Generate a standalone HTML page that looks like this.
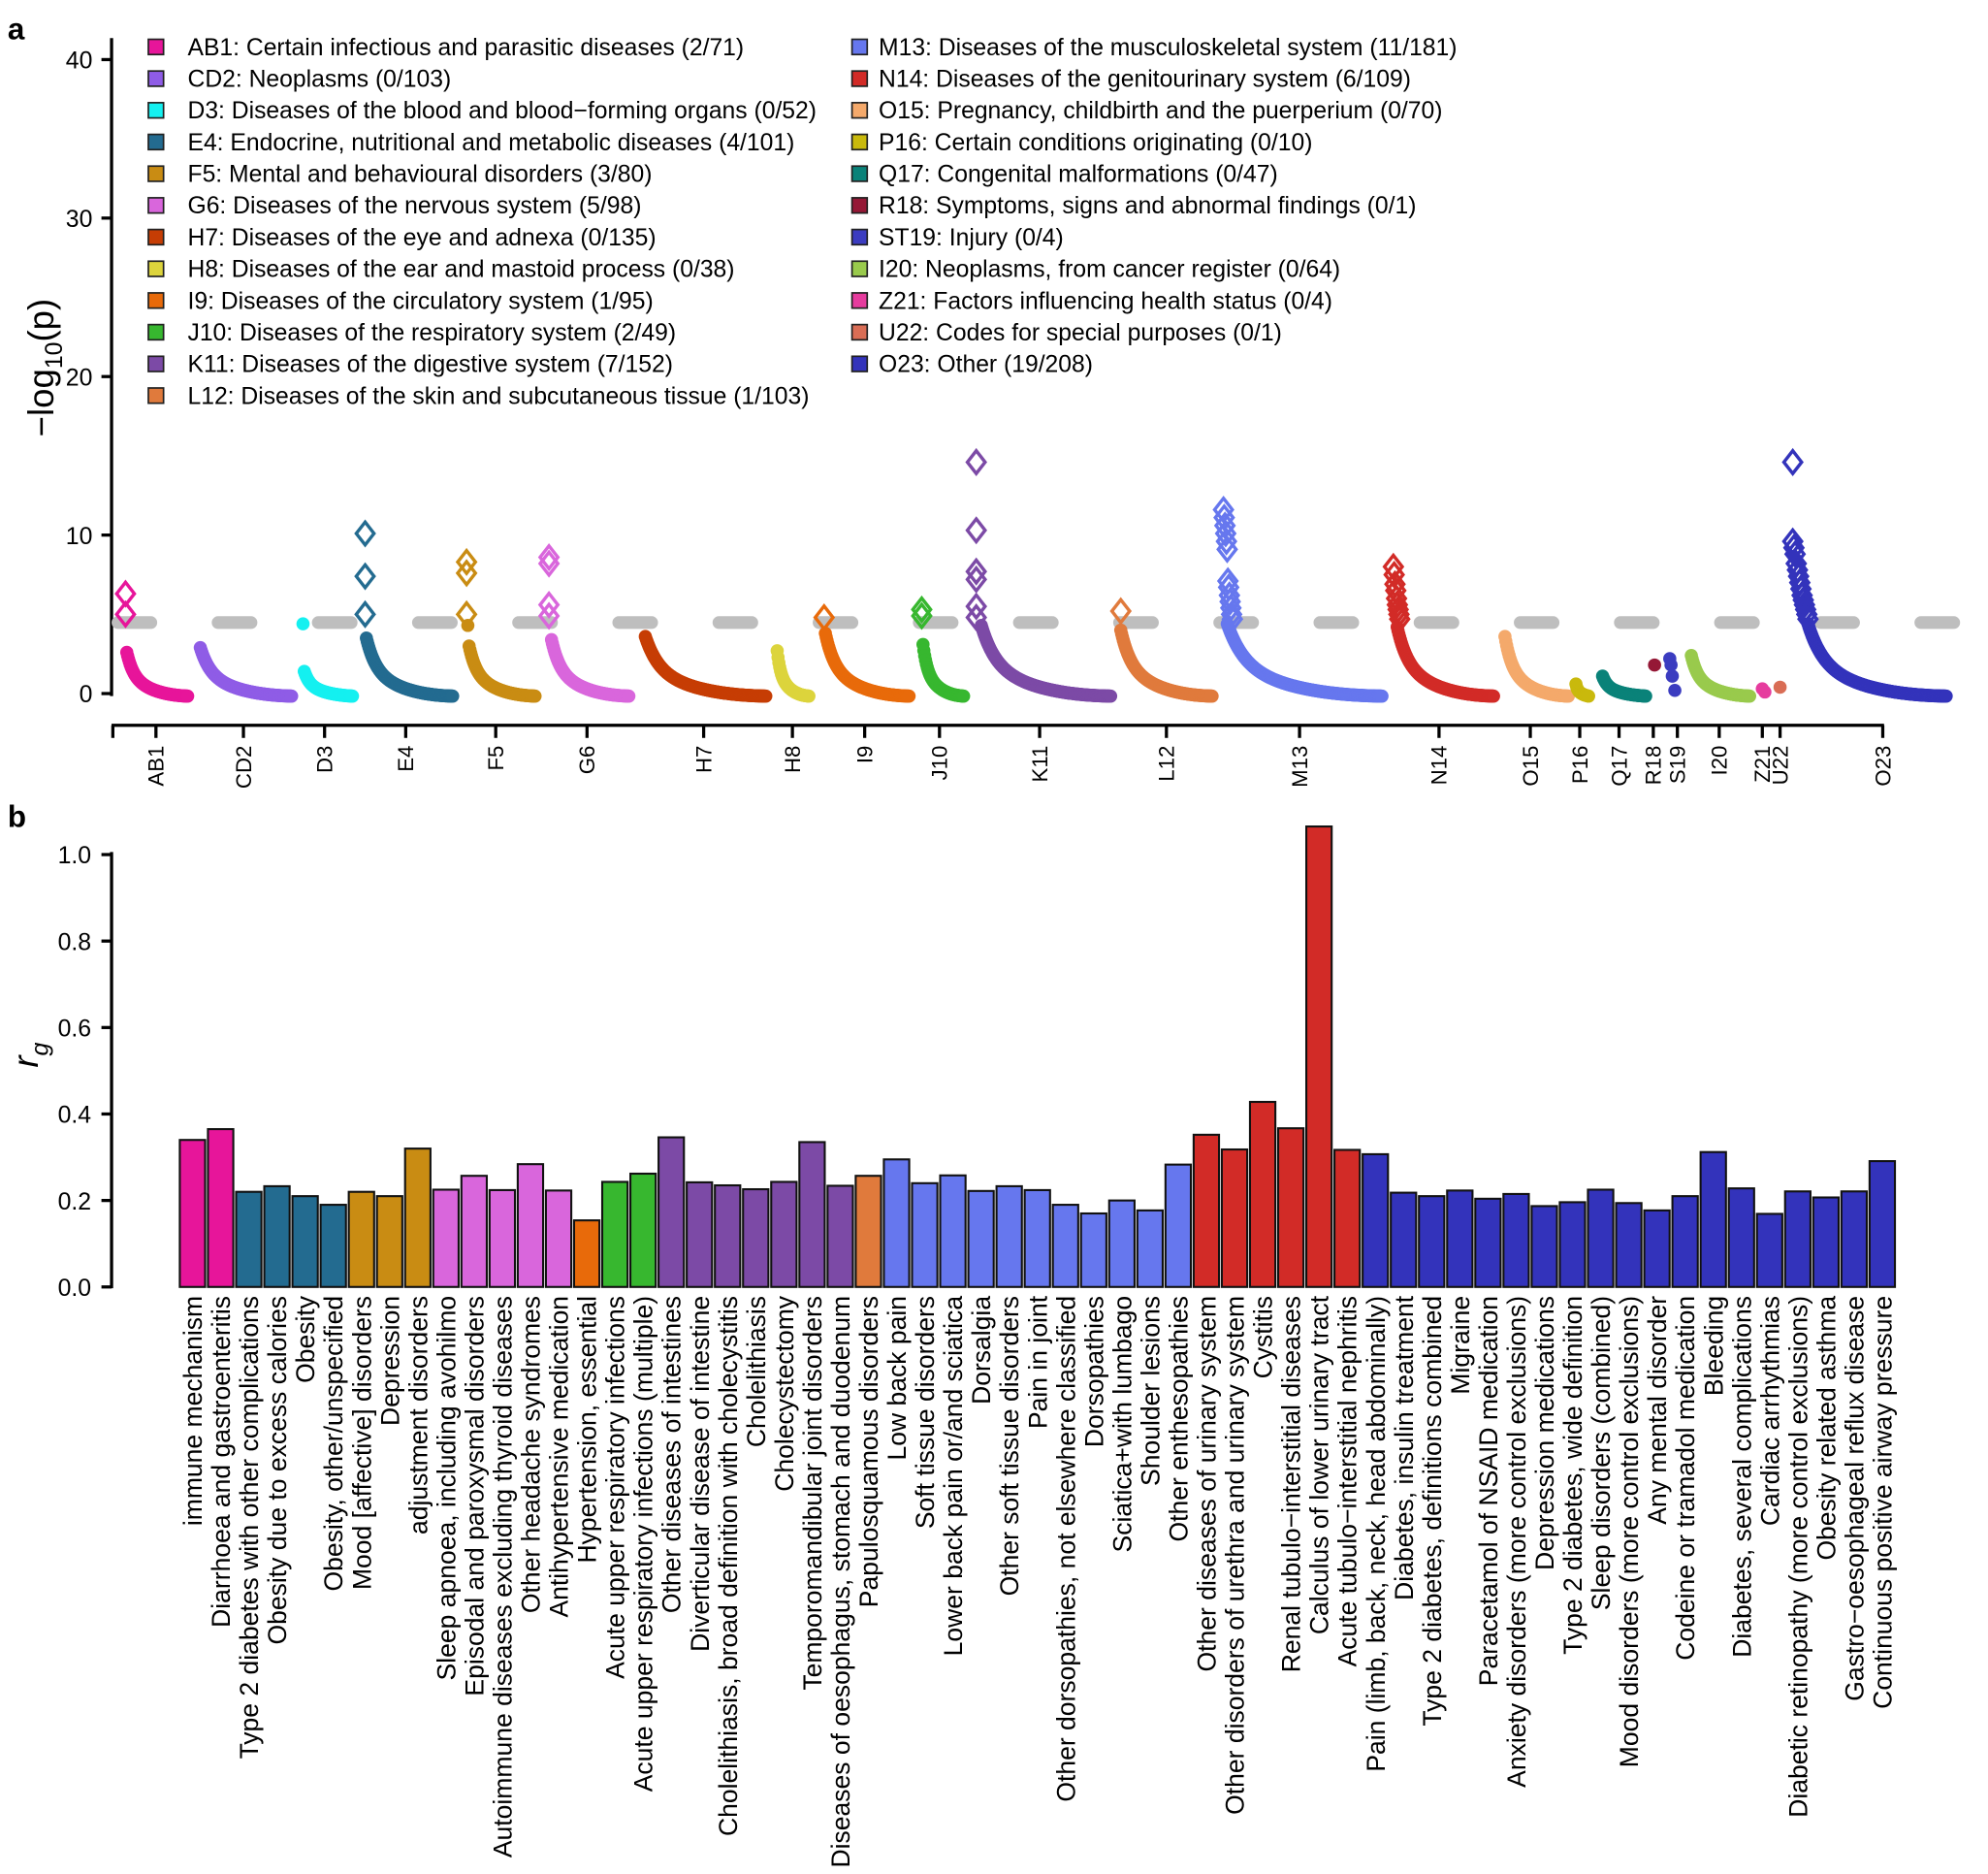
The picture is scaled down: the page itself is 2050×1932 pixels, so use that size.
<!DOCTYPE html>
<html><head><meta charset="utf-8"><style>
html,body{margin:0;padding:0;background:#fff}
svg{display:block}
text{font-family:"Liberation Sans",Arial,sans-serif;fill:#000}
</style></head><body>
<svg id="s" xmlns="http://www.w3.org/2000/svg" width="2050" height="1932" viewBox="0 0 1568 1478" preserveAspectRatio="none">
<text x="6" y="31" font-size="24" font-weight="bold">a</text>
<text x="6" y="652" font-size="24" font-weight="bold">b</text>
<g id="top"></g>
<g id="bot"></g>
</svg>
<script>
const NS="http://www.w3.org/2000/svg";
function el(p,t,a,txt){const e=document.createElementNS(NS,t);for(const k in a)e.setAttribute(k,a[k]);if(txt!==undefined)e.textContent=txt;p.appendChild(e);return e;}
const T=document.getElementById('top'),B=document.getElementById('bot');
const Y0=547,PU=12.5;
el(T,'line',{x1:88,y1:30,x2:88,y2:549,stroke:'#000','stroke-width':2.5});
[0,10,20,30,40].forEach(v=>{const y=Y0-v*PU;el(T,'line',{x1:80,y1:y,x2:88,y2:y,stroke:'#000','stroke-width':2.5});
 el(T,'text',{x:73,y:y+7,'font-size':19,'text-anchor':'end'},String(v));});
const yl=el(T,'text',{transform:'translate(42,290) rotate(-90)','font-size':28,'text-anchor':'middle'});
yl.innerHTML='−log<tspan font-size="19" dy="7">10</tspan><tspan dy="-7">(p)</tspan>';
el(T,'line',{x1:93,y1:491,x2:1545,y2:491,stroke:'#bebebe','stroke-width':10,'stroke-linecap':'round','stroke-dasharray':'26 53'});
const L1=[["#e7159a","AB1: Certain infectious and parasitic diseases (2/71)"],["#8f5ce6","CD2: Neoplasms (0/103)"],["#14f0f0","D3: Diseases of the blood and blood−forming organs (0/52)"],["#236b90","E4: Endocrine, nutritional and metabolic diseases (4/101)"],["#c98c13","F5: Mental and behavioural disorders (3/80)"],["#d966dc","G6: Diseases of the nervous system (5/98)"],["#c63d04","H7: Diseases of the eye and adnexa (0/135)"],["#dcd43c","H8: Diseases of the ear and mastoid process (0/38)"],["#e86a0a","I9: Diseases of the circulatory system (1/95)"],["#37b72f","J10: Diseases of the respiratory system (2/49)"],["#7c4aa6","K11: Diseases of the digestive system (7/152)"],["#e07a3c","L12: Diseases of the skin and subcutaneous tissue (1/103)"]];
const L2=[["#6677ee","M13: Diseases of the musculoskeletal system (11/181)"],["#d22b27","N14: Diseases of the genitourinary system (6/109)"],["#f4a96b","O15: Pregnancy, childbirth and the puerperium (0/70)"],["#c9b90c","P16: Certain conditions originating (0/10)"],["#0a8279","Q17: Congenital malformations (0/47)"],["#951836","R18: Symptoms, signs and abnormal findings (0/1)"],["#3b3cc0","ST19: Injury (0/4)"],["#99ca4c","I20: Neoplasms, from cancer register (0/64)"],["#e63c9e","Z21: Factors influencing health status (0/4)"],["#d96d55","U22: Codes for special purposes (0/1)"],["#3333bb","O23: Other (19/208)"]];
function leg(L,xs,xt){L.forEach((d,i)=>{const y=37+i*25;el(T,'rect',{x:xs,y:y-6,width:12,height:12,fill:d[0],stroke:'#222','stroke-width':1.3});
 el(T,'text',{x:xt,y:y+6.5,'font-size':18.9},d[1]);});}
leg(L1,117,148);leg(L2,672,693);
const G=[
["#e7159a",100,148,2.6],["#8f5ce6",158,230,2.9],["#14f0f0",240,278,1.4],["#236b90",289,357,3.5],["#c98c13",370,422,3.0],["#d966dc",435,496,3.4],["#c63d04",509,604,3.6],["#dcd43c",613,638,2.7],["#e86a0a",651,717,3.8],["#37b72f",728,760,3.1],["#7c4aa6",774,876,4.3],["#e07a3c",884,956,4.0],["#6677ee",968,1090,4.4],["#d22b27",1102,1178,4.2],["#f4a96b",1187,1237,3.6],["#c9b90c",1243,1253,0.6],["#0a8279",1264,1298,1.1],["#99ca4c",1334,1380,2.4],["#3333bb",1426,1535,4.4]];
G.forEach(g=>{const [c,x0,x1,s]=g;const n=Math.max(8,Math.round((x1-x0)*1.5));const grp=el(T,'g',{fill:c});
 for(let i=0;i<=n;i++){const t=i/n;const v=s*(0.62*Math.exp(-t*9)+0.38*Math.pow(1-t,2.2));
  el(grp,'circle',{cx:x0+t*(x1-x0),cy:Y0-v*PU+(t*2),r:5.2});}});
[["#14f0f0",239,4.4],["#c98c13",369,4.3],["#951836",1305,1.8],["#3b3cc0",1317,2.2],["#3b3cc0",1318,1.8],["#3b3cc0",1319,1.1],["#3b3cc0",1321,0.2],["#e63c9e",1390,0.3],["#e63c9e",1392,0.1],["#d96d55",1404,0.4]].forEach(p=>el(T,'circle',{cx:p[1],cy:Y0-p[2]*PU,r:5.2,fill:p[0]}));
function dia(c,x,v){const y=Y0-v*PU;el(T,'path',{d:`M${x} ${y-9}L${x+7} ${y}L${x} ${y+9}L${x-7} ${y}Z`,fill:'none',stroke:c,'stroke-width':2.6});}
[["#e7159a",99,[6.3,5.0]],["#236b90",288,[10.1,7.4,5.0]],["#c98c13",368,[8.3,7.6,5.0]],["#d966dc",433,[8.6,8.2,5.6,4.9]],["#e86a0a",650,[4.8]],["#37b72f",727,[5.3,4.9]],
 ["#7c4aa6",770,[14.6,10.3,7.7,7.2,5.5,4.8]],["#e07a3c",884,[5.2]],["#3333bb",1414,[14.6]]].forEach(d=>d[2].forEach(v=>dia(d[0],d[1],v)));
function run(c,x0,x1,vs){vs.forEach((v,i)=>dia(c,x0+(x1-x0)*i/(vs.length-1),v));}
run("#6677ee",965,972,[11.6,11.1,10.6,10.1,9.6,9.1,7.1,6.7,6.2,5.8,5.4,5.0,4.7]);
run("#d22b27",1099,1104,[8.0,7.5,6.9,6.5,6.0,5.6,5.3,5.0,4.7]);
run("#3333bb",1414,1426,[9.6,9.2,8.8,8.2,7.8,7.4,7.0,6.6,6.2,5.9,5.6,5.3,5.0,4.7]);
el(T,'line',{x1:88,y1:572,x2:1486,y2:572,stroke:'#000','stroke-width':2.5});
el(T,'line',{x1:89,y1:572,x2:89,y2:582,stroke:'#000','stroke-width':2.5});
[["AB1",123],["CD2",192],["D3",256],["E4",320],["F5",391],["G6",463],["H7",555],["H8",625],["I9",682],["J10",741],["K11",820],["L12",920],["M13",1025],["N14",1135],["O15",1207],["P16",1246],["Q17",1277],["R18",1304],["S19",1323],["I20",1356],["Z21",1390],["U22",1404],["O23",1485]].forEach(t=>{
 el(T,'line',{x1:t[1],y1:572,x2:t[1],y2:582,stroke:'#000','stroke-width':2.5});
 el(T,'text',{transform:`translate(${t[1]+6},588) rotate(-90)`,'font-size':17,'text-anchor':'end'},t[0]);});
const BY0=1015,BU=341;
el(B,'line',{x1:88,y1:672,x2:88,y2:1016,stroke:'#000','stroke-width':2.5});
[0,0.2,0.4,0.6,0.8,1.0].forEach(v=>{const y=BY0-v*BU;el(B,'line',{x1:80,y1:y,x2:88,y2:y,stroke:'#000','stroke-width':2.5});
 el(B,'text',{x:72,y:y+7,'font-size':19,'text-anchor':'end'},v.toFixed(1));});
const rg=el(B,'text',{x:10,y:838,'font-size':28,'font-style':'italic'});rg.innerHTML='r<tspan font-size="19" dy="8">g</tspan>';
rg.setAttribute('transform','rotate(-90 22 830)');
const K={p:"#e7159a",e:"#236b90",f:"#c98c13",g:"#d966dc",i:"#e86a0a",j:"#37b72f",k:"#7c4aa6",l:"#e07a3c",m:"#6677ee",n:"#d22b27",o:"#3333bb"};
const bars=[["immune mechanism",.34,"p"],["Diarrhoea and gastroenteritis",.365,"p"],["Type 2 diabetes with other complications",.22,"e"],["Obesity due to excess calories",.233,"e"],["Obesity",.21,"e"],["Obesity, other/unspecified",.19,"e"],["Mood [affective] disorders",.22,"f"],["Depression",.21,"f"],["adjustment disorders",.32,"f"],["Sleep apnoea, including avohilmo",.225,"g"],["Episodal and paroxysmal disorders",.257,"g"],["Autoimmune diseases excluding thyroid diseases",.224,"g"],["Other headache syndromes",.284,"g"],["Antihypertensive medication",.223,"g"],["Hypertension, essential",.154,"i"],["Acute upper respiratory infections",.243,"j"],["Acute upper respiratory infections (multiple)",.262,"j"],["Other diseases of intestines",.346,"k"],["Diverticular disease of intestine",.242,"k"],["Cholelithiasis, broad definition with cholecystitis",.235,"k"],["Cholelithiasis",.226,"k"],["Cholecystectomy",.243,"k"],["Temporomandibular joint disorders",.335,"k"],["Diseases of oesophagus, stomach and duodenum",.234,"k"],["Papulosquamous disorders",.257,"l"],["Low back pain",.295,"m"],["Soft tissue disorders",.24,"m"],["Lower back pain or/and sciatica",.258,"m"],["Dorsalgia",.222,"m"],["Other soft tissue disorders",.233,"m"],["Pain in joint",.224,"m"],["Other dorsopathies, not elsewhere classified",.19,"m"],["Dorsopathies",.17,"m"],["Sciatica+with lumbago",.2,"m"],["Shoulder lesions",.177,"m"],["Other enthesopathies",.283,"m"],["Other diseases of urinary system",.352,"n"],["Other disorders of urethra and urinary system",.318,"n"],["Cystitis",.428,"n"],["Renal tubulo−interstitial diseases",.367,"n"],["Calculus of lower urinary tract",1.065,"n"],["Acute tubulo−interstitial nephritis",.317,"n"],["Pain (limb, back, neck, head abdominally)",.307,"o"],["Diabetes, insulin treatment",.218,"o"],["Type 2 diabetes, definitions combined",.21,"o"],["Migraine",.223,"o"],["Paracetamol of NSAID medication",.204,"o"],["Anxiety disorders (more control exclusions)",.215,"o"],["Depression medications",.187,"o"],["Type 2 diabetes, wide definition",.196,"o"],["Sleep disorders (combined)",.225,"o"],["Mood disorders (more control exclusions)",.194,"o"],["Any mental disorder",.177,"o"],["Codeine or tramadol medication",.21,"o"],["Bleeding",.312,"o"],["Diabetes, several complications",.228,"o"],["Cardiac arrhythmias",.169,"o"],["Diabetic retinopathy (more control exclusions)",.221,"o"],["Obesity related asthma",.207,"o"],["Gastro−oesophageal reflux disease",.221,"o"],["Continuous positive airway pressure",.291,"o"]];
const X0=141,SL=(1496-141)/61;
bars.forEach((b,i)=>{const x=X0+i*SL;const h=b[1]*BU;
 el(B,'rect',{x:x+0.8,y:BY0-h,width:SL-2.2,height:h,fill:K[b[2]],stroke:'#111','stroke-width':1.6});
 const cx=x+SL/2;
 el(B,'text',{transform:`translate(${cx+7},1022) rotate(-90)`,'font-size':20.3,'text-anchor':'end'},b[0]);});
</script>
</body></html>
